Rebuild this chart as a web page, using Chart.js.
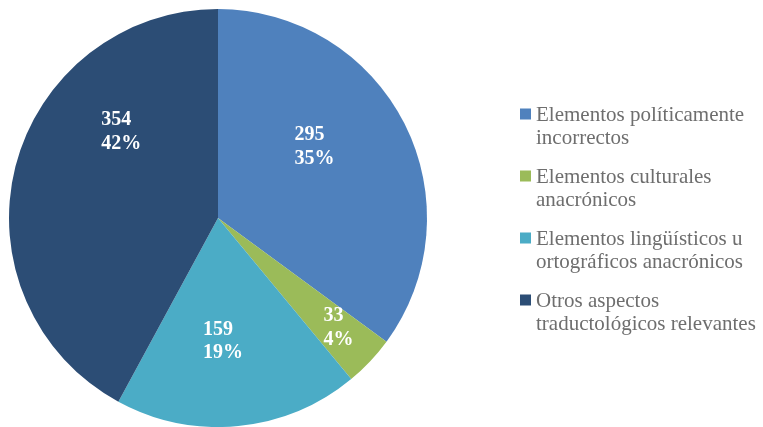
<!DOCTYPE html>
<html>
<head>
<meta charset="utf-8">
<script src="https://cdn.jsdelivr.net/npm/chart.js@4.4.1/dist/chart.umd.min.js"></script>
<style>
  html, body { margin: 0; padding: 0; background: #fff; }
  #wrap { width: 763px; height: 427px; }
</style>
</head>
<body>
<div id="wrap"><canvas id="pie"></canvas></div>
<script>
const categories = [
  'Elementos políticamente incorrectos',
  'Elementos culturales anacrónicos',
  'Elementos lingüísticos u ortográficos anacrónicos',
  'Otros aspectos traductológicos relevantes'
];
const counts = [295, 33, 159, 354];
const sliceColors = ['#4F81BD', '#9BBB59', '#4BACC6', '#2C4D75'];

// where each value label sits: fraction along the slice sweep, fraction of radius
const labelAnchors = [
  { t: 0.424, r: 0.574 },
  { t: 0.426, r: 0.78 },
  { t: 0.548, r: 0.59 },
  { t: 0.681, r: 0.62 }
];

const serif = '"Liberation Serif", "Times New Roman", serif';

const sliceLabels = {
  id: 'sliceLabels',
  afterDatasetsDraw(chart) {
    const ctx = chart.ctx;
    const data = chart.data.datasets[0].data;
    const total = data.reduce((a, b) => a + b, 0);
    const meta = chart.getDatasetMeta(0);
    ctx.save();
    ctx.font = 'bold 20px ' + serif;
    ctx.fillStyle = '#ffffff';
    ctx.textAlign = 'left';
    ctx.textBaseline = 'middle';
    meta.data.forEach((arc, i) => {
      const p = arc.getProps(['x', 'y', 'startAngle', 'endAngle', 'outerRadius'], true);
      const a = labelAnchors[i];
      const ang = p.startAngle + a.t * (p.endAngle - p.startAngle);
      const cx = p.x + Math.cos(ang) * p.outerRadius * a.r;
      const cy = p.y + Math.sin(ang) * p.outerRadius * a.r;
      const lines = [String(data[i]), Math.round(data[i] / total * 100) + '%'];
      const w = Math.max(...lines.map(s => ctx.measureText(s).width));
      const lh = 23.5;
      lines.forEach((s, k) => {
        ctx.fillText(s, cx - w / 2, cy + (k - (lines.length - 1) / 2) * lh);
      });
    });
    ctx.restore();
  }
};

function wrapWords(ctx, text, maxWidth) {
  const words = text.split(' ');
  const lines = [];
  let line = '';
  words.forEach(wd => {
    const test = line ? line + ' ' + wd : wd;
    if (line && ctx.measureText(test).width > maxWidth) {
      lines.push(line);
      line = wd;
    } else {
      line = test;
    }
  });
  if (line) lines.push(line);
  return lines;
}

// legend on the right with wrapped entries
const sideLegend = {
  id: 'sideLegend',
  afterDraw(chart, args, opts) {
    const ctx = chart.ctx;
    const colors = chart.data.datasets[0].backgroundColor;
    ctx.save();
    ctx.font = opts.fontSize + 'px ' + serif;
    ctx.textBaseline = 'middle';
    ctx.textAlign = 'left';
    chart.data.labels.forEach((label, i) => {
      const y0 = opts.top + i * opts.itemPitch;
      ctx.fillStyle = colors[i];
      ctx.fillRect(opts.left, y0 - opts.box / 2 - 1, opts.box, opts.box);
      ctx.fillStyle = opts.color;
      wrapWords(ctx, label, opts.maxWidth).forEach((s, k) => {
        ctx.fillText(s, opts.left + opts.box + opts.gap, y0 + k * opts.lineHeight);
      });
    });
    ctx.restore();
  }
};

new Chart(document.getElementById('pie'), {
  type: 'pie',
  data: {
    labels: categories,
    datasets: [{
      data: counts,
      backgroundColor: sliceColors,
      borderWidth: 0,
      hoverOffset: 0
    }]
  },
  options: {
    responsive: true,
    maintainAspectRatio: false,
    animation: false,
    layout: { padding: { left: 9, right: 336, top: 9, bottom: 0 } },
    plugins: {
      legend: { display: false },
      tooltip: { enabled: false },
      sideLegend: {
        left: 520, top: 115, itemPitch: 62, box: 11, gap: 5,
        fontSize: 21, lineHeight: 23.5, maxWidth: 236, color: '#6e6e6e'
      }
    }
  },
  plugins: [sliceLabels, sideLegend]
});
</script>
</body>
</html>
